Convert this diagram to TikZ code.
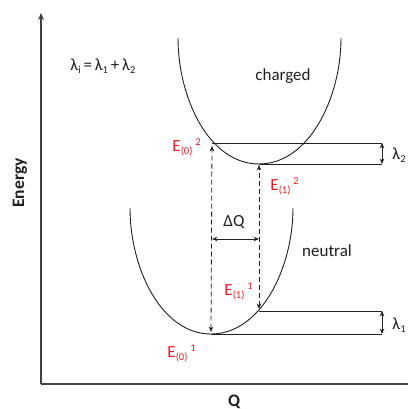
\documentclass[tikz,border=0pt]{standalone}
\usepackage{fontspec}
\setmainfont{Carlito}
\usetikzlibrary{arrows.meta}
\definecolor{ered}{RGB}{237,28,36}
\definecolor{ink}{RGB}{35,31,32}
\newcommand\lowx[1]{\raisebox{-3pt}{\fontsize{10.5}{10.5}\selectfont #1}}
\newcommand\highx[1]{\raisebox{5.5pt}{\fontsize{10.5}{10.5}\selectfont #1}}
\newcommand\Elab[2]{E\lowx{(#1)}\,\highx{#2}}
\begin{document}
\begin{tikzpicture}[x=1pt,y=-1pt,
  ink, line width=0.9pt,
  axis/.style={line width=1.1pt, draw=ink!85},
  curve/.style={line width=0.9pt, draw=ink},
  level/.style={line width=0.9pt, draw=ink},
  tip/.style={{Stealth[length=5.5pt,width=4.5pt]}-{Stealth[length=5.5pt,width=4.5pt]}},
  dasharrow/.style={tip, dash pattern=on 5pt off 3pt, line width=0.8pt},
  txt/.style={font=\fontsize{17}{17}\selectfont, text=ink, inner sep=0pt},
  elab/.style={font=\fontsize{17}{17}\selectfont, text=ered, inner sep=0pt, anchor=base west},
  axlab/.style={font=\fontsize{17.5}{17.5}\selectfont\bfseries, text=ink, inner sep=0pt, anchor=base}
]
\useasboundingbox (0,0) rectangle (408,409);

% axes
\coordinate (orig) at (41,384);
\coordinate (ytop) at (41,13);
\coordinate (xend) at (408,384);
\draw[axis, -{Stealth[length=7pt,width=6pt]}] (orig) -- (ytop);
\draw[axis] (orig) -- (xend);
\node[axlab, rotate=90] (energy) at (24,183) {Energy};
\node[axlab] (qlab) at (234,406) {Q};

% charged curve
\draw[curve] (178,38) .. controls (178,98) and (209,164) .. (259,164)
                       .. controls (309,164) and (341,98) .. (341,38);
% neutral curve
\draw[curve] (130,208) .. controls (130,268) and (161,334) .. (211,334)
                       .. controls (261,334) and (293,268) .. (293,208);

% key points
\coordinate (e02) at (212,143);
\coordinate (e12) at (259,164);
\coordinate (e11) at (259,311);
\coordinate (e01) at (211,334);
\coordinate (r02) at (382,143);
\coordinate (r12) at (382,164);
\coordinate (r11) at (382,311);
\coordinate (r01) at (382,334);

% levels
\draw[level] (e02) -- (r02);
\draw[level] (e12) -- (r12);
\draw[level] (e11) -- (r11);
\draw[level] (e01) -- (r01);

% lambda arrows
\draw[tip, line width=0.8pt] (r02) -- (r12);
\draw[tip, line width=0.8pt] (r11) -- (r01);

% dashed transitions
\draw[dasharrow, shorten <=2pt, shorten >=3pt] (e01) -- (e02);
\draw[dasharrow, shorten <=2pt, shorten >=1pt] (e11) -- (e12);

% Delta Q
\coordinate (dql) at (212,239);
\coordinate (dqr) at (259,239);
\draw[tip, line width=0.8pt] (dql) -- (dqr);
\node[txt, anchor=base] (dq) at (234,226) {ΔQ};

% texts
\node[txt, anchor=base] (charged) at (283,81) {charged};
\node[txt, anchor=base] (neutral) at (327,256) {neutral};
\node[txt, anchor=base west] (lameq) at (70,71)
  {λ\lowx{i}\,=\,λ\lowx{1}\,+\,λ\lowx{2}};
\node[txt, anchor=base west] (lam2) at (392,159) {λ\lowx{2}};
\node[txt, anchor=base west] (lam1) at (392,329) {λ\lowx{1}};

\node[elab] (E02) at (172,151) {\Elab{0}{2}};
\node[elab] (E12) at (270,190) {\Elab{1}{2}};
\node[elab] (E11) at (224,295) {\Elab{1}{1}};
\node[elab] (E01) at (167,357) {\Elab{0}{1}};
\end{tikzpicture}
\end{document}
